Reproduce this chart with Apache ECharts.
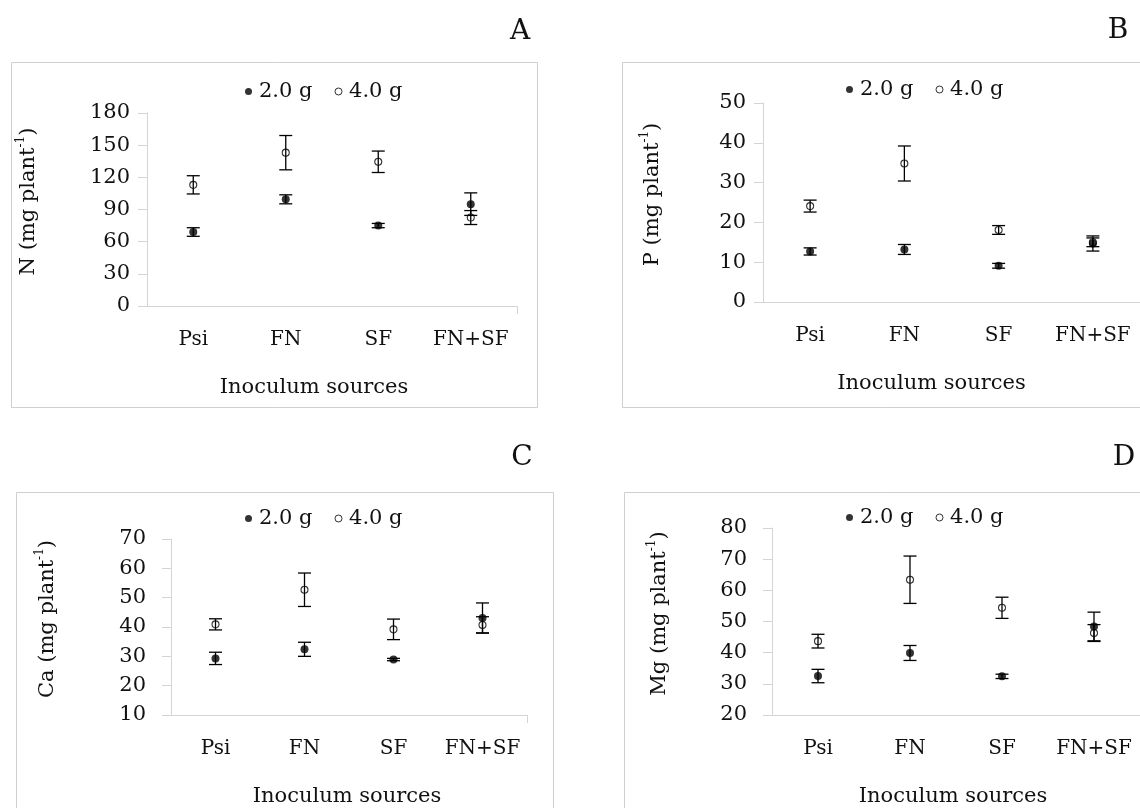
<!DOCTYPE html>
<html>
<head>
<meta charset="utf-8">
<script src="https://cdn.jsdelivr.net/npm/echarts@6/dist/echarts.min.js"></script>
<style>html,body{margin:0;padding:0;background:#fff}#c{width:1140px;height:808px}</style>
</head>
<body>
<div id="c"></div>
<script>
// ---- data ----
const categories = ['Psi', 'FN', 'SF', 'FN+SF'];
const seriesNames = ['2.0 g', '4.0 g'];

// Panel A: N (mg plant-1)
const nMean2 = [69, 99.5, 75, 95];
const nErr2  = [4, 4.2, 2, 10.5];
const nMean4 = [113, 143, 134.5, 82.5];
const nErr4  = [8.5, 16, 10, 6.5];

// Panel B: P (mg plant-1)
const pMean2 = [12.7, 13.2, 9.1, 14.7];
const pErr2  = [0.9, 1.25, 0.6, 1.9];
const pMean4 = [24.1, 34.8, 18.1, 15.0];
const pErr4  = [1.5, 4.4, 1.1, 1.1];

// Panel C: Ca (mg plant-1)
const caMean2 = [29.3, 32.4, 28.9, 43.1];
const caErr2  = [2.1, 2.4, 0.4, 5.1];
const caMean4 = [40.9, 52.7, 39.2, 40.7];
const caErr4  = [1.9, 5.7, 3.5, 2.8];

// Panel D: Mg (mg plant-1)
const mgMean2 = [32.5, 39.9, 32.4, 48.4];
const mgErr2  = [2.15, 2.4, 0.7, 4.6];
const mgMean4 = [43.7, 63.4, 54.4, 46.3];
const mgErr4  = [2.2, 7.6, 3.4, 2.7];

// axis ranges / tick labels
const nAxis  = {min: 0,  max: 180, interval: 30};
const pAxis  = {min: 0,  max: 50,  interval: 10};
const caAxis = {min: 10, max: 70,  interval: 10};
const mgAxis = {min: 20, max: 80,  interval: 10};

const xTitle = 'Inoculum sources';
const panelLetters = ['A', 'B', 'C', 'D'];
const yTitles = ['N', 'P', 'Ca', 'Mg'];

// ---- layout / style ----
const FONT = 'DejaVu Serif';
const TXT = '#111';
const AX = '#d4d4d4';

const panels = [
  {name: yTitles[0], m2: nMean2, e2: nErr2, m4: nMean4, e4: nErr4, ax: nAxis,
   grid: {left: 147, top: 113, width: 370, height: 193}, lblMargin: 17, nameGap: 108,
   legendLeft: 240, legendTop: 76, xPad: 36, box: [11, 62, 526, 345], letter: [520, 32]},
  {name: yTitles[1], m2: pMean2, e2: pErr2, m4: pMean4, e4: pErr4, ax: pAxis,
   grid: {left: 763, top: 103, width: 384, height: 199}, lblMargin: 17, nameGap: 100,
   legendLeft: 841, legendTop: 74, xPad: 40, box: [622, 62, 600, 345], letter: [1118, 31]},
  {name: yTitles[2], m2: caMean2, e2: caErr2, m4: caMean4, e4: caErr4, ax: caAxis,
   grid: {left: 171, top: 539, width: 356, height: 179}, lblMargin: 25, nameGap: 113,
   legendLeft: 240, legendTop: 503, xPad: 4, box: [16, 492, 537, 400], letter: [522, 458]},
  {name: yTitles[3], m2: mgMean2, e2: mgErr2, m4: mgMean4, e4: mgErr4, ax: mgAxis,
   grid: {left: 772, top: 528, width: 374, height: 194}, lblMargin: 25, nameGap: 102,
   legendLeft: 841, legendTop: 502, xPad: 6, box: [624, 492, 600, 400], letter: [1124, 458]}
];

function errBars(means, errs) {
  return means.map((m, i) => [i, m - errs[i], m + errs[i]]);
}

function renderErr(params, api) {
  const x = api.value(0);
  const lo = api.coord([x, api.value(1)]);
  const hi = api.coord([x, api.value(2)]);
  const hw = 6.5;
  const st = {stroke: '#000', lineWidth: 1.3};
  return {
    type: 'group',
    children: [
      {type: 'line', shape: {x1: lo[0], y1: lo[1], x2: hi[0], y2: hi[1]}, style: st},
      {type: 'line', shape: {x1: hi[0] - hw, y1: hi[1], x2: hi[0] + hw, y2: hi[1]}, style: st},
      {type: 'line', shape: {x1: lo[0] - hw, y1: lo[1], x2: lo[0] + hw, y2: lo[1]}, style: st}
    ]
  };
}

const grids = [], xAxes = [], yAxes = [], series = [], legends = [], graphics = [];

panels.forEach((p, k) => {
  grids.push(p.grid);
  xAxes.push({
    type: 'category', gridIndex: k, data: categories, position: 'bottom',
    axisLine: {lineStyle: {color: AX, width: 1}},
    axisTick: {alignWithLabel: true, interval: 0, length: 8, lineStyle: {color: AX}},
    axisLabel: {interval: 0, color: TXT, fontFamily: FONT, fontSize: 20, margin: 24},
    name: xTitle, nameLocation: 'middle', nameGap: 71,
    nameTextStyle: {color: TXT, fontFamily: FONT, fontSize: 21, padding: [0, p.xPad, 0, 0]}
  });
  xAxes.push({
    type: 'value', gridIndex: k, min: 0, max: 1, interval: 1, position: 'bottom',
    axisLine: {show: false}, axisLabel: {show: false}, splitLine: {show: false},
    axisTick: {show: true, length: 8, customValues: [1], lineStyle: {color: AX}}
  });
  yAxes.push({
    type: 'value', gridIndex: k, min: p.ax.min, max: p.ax.max, interval: p.ax.interval,
    axisLine: {show: true, lineStyle: {color: AX, width: 1}},
    axisTick: {show: true, length: 9, lineStyle: {color: AX}},
    splitLine: {show: false},
    axisLabel: {color: TXT, fontFamily: FONT, fontSize: 21, margin: p.lblMargin},
    name: '{t|' + p.name + ' (mg plant}{s|-1}{t|)}', nameLocation: 'middle', nameRotate: 90, nameGap: p.nameGap,
    nameTextStyle: {color: TXT, fontFamily: FONT, fontSize: 21, padding: [0, 0, 0, 16],
      rich: {t: {fontFamily: FONT, fontSize: 21, color: TXT, lineHeight: 24, verticalAlign: 'bottom'},
             s: {fontFamily: FONT, fontSize: 12, color: TXT, lineHeight: 24, verticalAlign: 'top'}}}
  });
  const xi = 2 * k;
  series.push({
    type: 'scatter', name: seriesNames[0], xAxisIndex: xi, yAxisIndex: k,
    data: p.m2.map((v, i) => [i, v]), symbol: 'circle', symbolSize: 8,
    itemStyle: {color: '#000'}, z: 3, silent: true
  });
  series.push({
    type: 'scatter', name: seriesNames[1], xAxisIndex: xi, yAxisIndex: k,
    data: p.m4.map((v, i) => [i, v]), symbol: 'circle', symbolSize: 7,
    itemStyle: {color: 'rgba(255,255,255,0)', borderColor: '#000', borderWidth: 1.1}, z: 3, silent: true
  });
  series.push({
    type: 'custom', name: seriesNames[0] + ' err', xAxisIndex: xi, yAxisIndex: k,
    data: errBars(p.m2, p.e2), renderItem: renderErr, z: 4, silent: true
  });
  series.push({
    type: 'custom', name: seriesNames[1] + ' err', xAxisIndex: xi, yAxisIndex: k,
    data: errBars(p.m4, p.e4), renderItem: renderErr, z: 4, silent: true
  });
  legends.push({
    left: p.legendLeft, top: p.legendTop, orient: 'horizontal', itemGap: 22,
    itemWidth: 7, itemHeight: 7, selectedMode: false,
    textStyle: {color: TXT, fontFamily: FONT, fontSize: 21, padding: [0, 0, 0, 2]},
    data: [
      {name: seriesNames[0], icon: 'circle', itemStyle: {color: '#000', borderWidth: 0}},
      {name: seriesNames[1], icon: 'circle', itemStyle: {color: '#fff', borderColor: '#000', borderWidth: 1}}
    ]
  });
  graphics.push({
    type: 'rect', shape: {x: p.box[0] + 0.5, y: p.box[1] + 0.5, width: p.box[2], height: p.box[3]},
    style: {fill: 'none', stroke: '#cfcfcf', lineWidth: 1}, z: -1, silent: true
  });
  graphics.push({
    type: 'text', x: p.letter[0], y: p.letter[1],
    style: {text: panelLetters[k], fontFamily: FONT, fontSize: 28, fill: TXT, align: 'center', verticalAlign: 'middle'},
    silent: true
  });
});

const chart = echarts.init(document.getElementById('c'), null, {renderer: 'canvas'});
chart.setOption({
  animation: false,
  backgroundColor: '#fff',
  grid: grids,
  xAxis: xAxes,
  yAxis: yAxes,
  legend: legends,
  series: series,
  graphic: graphics
});
</script>
</body>
</html>
